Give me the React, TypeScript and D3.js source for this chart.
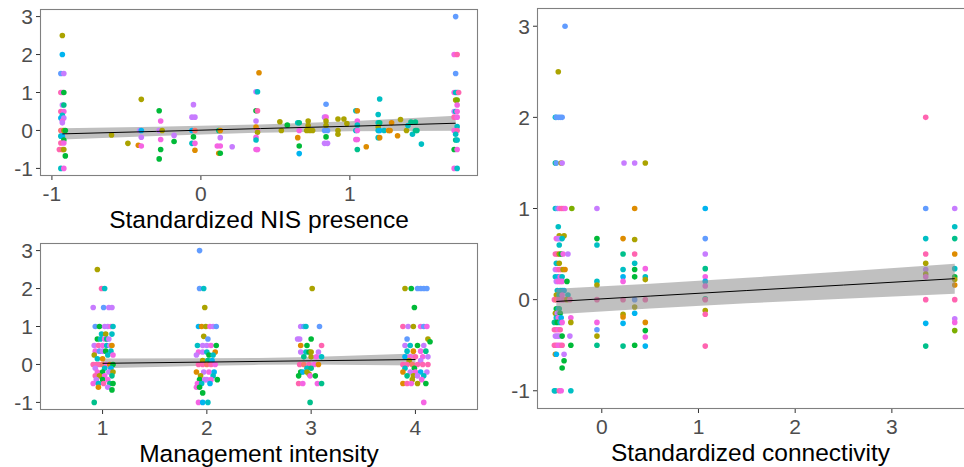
import React from "react";
import * as d3 from "d3";

type P = [number, number, string];

// group colours (ggplot hue palette, 12 groups)
const GROUP_COLORS: Record<string, string> = {
  r: "#F8766D", o: "#DE8C00", y: "#ABA300", l: "#7CAE00", g: "#00BA38", t: "#00C08B",
  c: "#00BFC4", b: "#00B4F0", w: "#619CFF", p: "#C77CFF", m: "#F564E3", k: "#FF64B0",
};

// ---------- Panel 1: Standardized NIS presence ----------
const nisPoints: P[] = [
  [-0.93,2.5,"y"],[-0.93,2.0,"b"],[-0.94,1.5,"w"],[-0.92,1.5,"p"],[-0.94,1.0,"k"],[-0.93,1.0,"m"],[-0.92,1.0,"g"],
  [-0.93,0.67,"p"],[-0.92,0.67,"t"],[-0.94,0.5,"k"],[-0.92,0.5,"m"],[-0.93,0.4,"c"],[-0.94,0.33,"b"],[-0.92,0.33,"p"],
  [-0.93,0.25,"m"],[-0.93,0.2,"p"],[-0.94,0,"r"],[-0.93,0,"k"],[-0.92,0,"y"],[-0.91,0,"g"],[-0.94,-0.15,"c"],
  [-0.93,-0.15,"b"],[-0.92,-0.25,"g"],[-0.94,-0.33,"k"],[-0.92,-0.33,"m"],[-0.95,-0.5,"k"],[-0.93,-0.5,"r"],
  [-0.92,-0.5,"y"],[-0.91,-0.67,"g"],[-0.94,-1,"c"],[-0.92,-1,"m"],
  [-0.6,-0.12,"y"],[-0.49,-0.34,"y"],[-0.4,0.82,"y"],[-0.42,-0.39,"o"],[-0.41,0,"p"],[-0.4,0,"b"],[-0.4,-0.18,"p"],
  [-0.4,-0.41,"m"],[-0.28,0.52,"g"],[-0.27,0.25,"m"],[-0.28,0,"p"],[-0.26,0,"y"],[-0.27,-0.24,"m"],[-0.27,-0.5,"g"],
  [-0.28,-0.75,"g"],[-0.18,-0.13,"p"],[-0.18,-0.29,"g"],[-0.05,0.68,"p"],[-0.06,0.35,"p"],[-0.04,0.35,"p"],
  [-0.06,0,"b"],[-0.04,0,"r"],[-0.05,-0.17,"g"],[-0.06,-0.34,"c"],[-0.04,-0.34,"m"],[-0.04,-0.52,"o"],
  [0.12,0,"t"],[0.13,0,"o"],[0.13,-0.19,"p"],[0.11,-0.41,"m"],[0.13,-0.41,"m"],[0.12,-0.6,"o"],[0.13,-0.6,"g"],
  [0.21,-0.43,"p"],
  [0.39,1.52,"o"],[0.37,1.02,"p"],[0.38,1.02,"c"],[0.37,0.52,"g"],[0.38,0.52,"k"],[0.37,0.25,"p"],[0.37,0.09,"o"],
  [0.38,0,"m"],[0.38,-0.05,"y"],[0.37,-0.18,"m"],[0.37,-0.25,"c"],[0.37,-0.5,"m"],[0.38,-0.5,"m"],
  [0.53,0.23,"y"],[0.54,0,"y"],[0.58,0.14,"g"],[0.65,-0.19,"o"],[0.66,0,"m"],[0.65,0.2,"c"],[0.66,0.2,"t"],
  [0.66,-0.41,"g"],[0.66,-0.61,"b"],[0.72,0.25,"y"],[0.72,0.13,"y"],[0.71,0,"y"],[0.73,0,"y"],[0.75,0,"y"],
  [0.84,0.69,"w"],[0.83,0.35,"p"],[0.84,0.35,"m"],[0.84,0.25,"y"],[0.84,0.13,"y"],[0.83,0,"w"],[0.85,0,"w"],
  [0.84,-0.17,"g"],[0.83,-0.34,"p"],[0.85,-0.34,"p"],[0.92,0.3,"y"],[0.92,0,"y"],[0.92,-0.1,"y"],
  [0.96,0.3,"y"],[0.98,0.18,"y"],[1.04,0.52,"c"],[1.05,0.52,"o"],[1.05,0.25,"m"],[1.05,0.14,"c"],[1.04,0,"c"],
  [1.05,0,"m"],[1.04,-0.24,"m"],[1.05,-0.24,"m"],[1.05,-0.5,"t"],[1.11,-0.43,"o"],
  [1.2,0.83,"c"],[1.19,0.42,"c"],[1.19,0.2,"c"],[1.2,0.2,"t"],[1.19,0.09,"y"],[1.19,0,"c"],[1.2,0,"b"],
  [1.19,-0.19,"c"],[1.2,-0.19,"o"],[1.23,0,"c"],[1.26,0,"o"],[1.27,0,"o"],[1.28,0.2,"o"],[1.32,-0.14,"o"],
  [1.34,0.29,"y"],[1.38,0,"y"],[1.39,0.13,"c"],[1.41,0.22,"t"],[1.42,-0.1,"c"],[1.44,0,"t"],[1.45,0,"t"],
  [1.44,0.22,"t"],[1.48,-0.36,"c"],
  [1.71,3,"w"],[1.7,2,"m"],[1.72,2,"k"],[1.71,1.5,"w"],[1.7,1,"m"],[1.71,1,"c"],[1.72,1,"c"],[1.73,1,"k"],
  [1.71,0.8,"y"],[1.72,0.8,"l"],[1.72,0.67,"m"],[1.7,0.5,"p"],[1.71,0.5,"c"],[1.72,0.5,"m"],[1.7,0.35,"k"],
  [1.72,0.35,"m"],[1.72,0.1,"c"],[1.7,0,"m"],[1.72,0,"k"],[1.71,-0.1,"c"],[1.71,-0.25,"t"],[1.72,-0.25,"c"],
  [1.7,-0.5,"g"],[1.72,-0.5,"m"],[1.7,-1,"m"],[1.72,-1,"c"],
];
const nisFitX = [-0.93, -0.3, 0.4, 1.0, 1.71];
const nisFitY = [-0.09, -0.025, 0.05, 0.11, 0.19];
const nisFitHalf = [0.15, 0.12, 0.11, 0.13, 0.2];
const nisXTicks = [-1, 0, 1];

// ---------- Panel 2: Management intensity ----------
const mgmtPoints: P[] = [
  [0.95,2.5,"y"],[0.99,2,"k"],[1.02,2,"c"],[0.91,1.5,"p"],[1.01,1.5,"w"],[1.06,1.5,"p"],[1.09,1.5,"p"],
  [0.93,1,"w"],[0.97,1,"g"],[1.02,1,"p"],[1.05,1,"p"],[1.08,1,"m"],[1.1,1,"c"],
  [0.99,0.8,"c"],[1.03,0.8,"y"],[1.09,0.8,"c"],
  [0.95,0.67,"g"],[0.98,0.67,"c"],[1.02,0.67,"m"],[1.04,0.67,"t"],[1.06,0.67,"p"],
  [0.92,0.5,"p"],[0.96,0.5,"k"],[1.0,0.5,"m"],[1.04,0.5,"c"],[1.07,0.5,"p"],[1.09,0.5,"o"],
  [0.93,0.35,"m"],[0.97,0.35,"w"],[1.0,0.35,"p"],[1.03,0.35,"g"],[1.08,0.35,"c"],
  [0.92,0.25,"y"],[1.05,0.25,"c"],[1.1,0.25,"m"],[0.95,0.15,"c"],[1.0,0.15,"o"],
  [0.91,0,"k"],[0.94,0,"k"],[0.97,0,"k"],[1.0,0,"r"],[1.04,0,"m"],[1.07,0,"o"],[1.1,0,"g"],
  [0.93,-0.1,"p"],[1.02,-0.1,"c"],[1.08,-0.1,"b"],
  [0.95,-0.2,"m"],[1.0,-0.2,"g"],[1.06,-0.2,"p"],[1.1,-0.2,"y"],
  [0.93,-0.3,"k"],[0.97,-0.3,"y"],[1.02,-0.3,"m"],[1.09,-0.3,"t"],
  [0.94,-0.4,"p"],[1.0,-0.4,"g"],[1.05,-0.4,"m"],
  [0.91,-0.5,"m"],[0.96,-0.5,"c"],[1.01,-0.5,"k"],[1.07,-0.5,"t"],[1.1,-0.5,"g"],
  [0.96,-0.6,"o"],[1.05,-0.6,"p"],[1.09,-0.67,"g"],[0.92,-1,"t"],

  [1.93,3,"w"],[1.93,2,"w"],[1.97,2,"c"],[1.98,1.5,"y"],
  [1.92,1,"b"],[1.95,1,"o"],[1.99,1,"y"],[2.03,1,"m"],[2.06,1,"p"],[2.09,1,"w"],
  [1.97,0.74,"y"],[2.01,0.67,"w"],
  [1.91,0.5,"c"],[1.96,0.5,"p"],[2.0,0.5,"p"],[2.04,0.5,"m"],[2.09,0.5,"g"],
  [1.92,0.33,"m"],[1.96,0.33,"p"],[2.0,0.33,"c"],[2.08,0.33,"o"],
  [1.9,0.25,"p"],[2.02,0.25,"g"],[2.06,0.25,"c"],
  [1.96,0.1,"y"],[2.01,0.1,"t"],[2.05,0.1,"b"],
  [1.92,0,"k"],[1.96,0,"k"],[2.0,0,"r"],[2.04,0,"k"],[2.08,0,"m"],
  [1.9,-0.2,"o"],[1.97,-0.2,"p"],[2.02,-0.2,"m"],[2.07,-0.2,"b"],
  [1.94,-0.3,"y"],[2.06,-0.3,"c"],
  [1.93,-0.4,"g"],[1.98,-0.4,"p"],[2.0,-0.4,"p"],[2.04,-0.4,"m"],[2.1,-0.4,"g"],
  [1.91,-0.5,"m"],[1.95,-0.5,"c"],[2.03,-0.5,"b"],
  [1.9,-0.6,"m"],[1.93,-0.6,"g"],[1.96,-0.75,"g"],
  [1.92,-1,"m"],[1.96,-1,"b"],[2.01,-1,"c"],

  [3.01,2,"y"],
  [2.9,1,"p"],[2.93,1,"w"],[2.95,1,"c"],[3.08,1,"w"],
  [2.87,0.67,"p"],[2.89,0.67,"p"],[3.0,0.67,"g"],
  [2.9,0.5,"o"],[2.96,0.5,"g"],[3.1,0.5,"k"],
  [2.9,0.33,"p"],[2.95,0.33,"c"],[2.98,0.33,"g"],[3.0,0.33,"y"],[3.07,0.33,"p"],
  [2.93,0.2,"t"],[3.0,0.2,"y"],[3.05,0.2,"m"],[3.1,0.2,"c"],
  [2.89,0,"k"],[2.93,0,"r"],[2.98,0,"k"],[3.03,0,"m"],[3.07,0,"o"],
  [2.96,-0.1,"c"],[3.0,-0.1,"t"],
  [2.9,-0.2,"g"],[2.92,-0.2,"b"],[2.96,-0.2,"y"],[2.98,-0.25,"y"],
  [2.88,-0.3,"g"],[2.99,-0.3,"m"],[3.04,-0.3,"g"],
  [2.88,-0.5,"k"],[2.92,-0.5,"m"],[3.06,-0.5,"m"],[3.1,-0.5,"t"],
  [2.99,-1,"t"],

  [3.9,2,"y"],[3.96,2,"g"],[4.02,2,"w"],[4.05,2,"w"],[4.08,2,"w"],[4.11,2,"w"],
  [3.99,1.5,"g"],
  [3.88,1,"k"],[3.93,1,"p"],[3.98,1,"y"],[4.05,1,"m"],[4.08,1,"w"],[4.11,1,"m"],
  [3.92,0.67,"w"],[4.12,0.67,"y"],[4.14,0.6,"g"],
  [3.9,0.5,"p"],[3.95,0.5,"c"],[4.02,0.5,"g"],[4.08,0.5,"p"],
  [3.92,0.35,"c"],[3.98,0.35,"o"],[4.05,0.35,"m"],[4.1,0.35,"t"],
  [3.9,0.2,"b"],[3.95,0.2,"m"],[4.0,0.2,"k"],[4.07,0.2,"m"],[4.12,0.2,"p"],
  [3.94,0.1,"y"],[4.05,0.1,"p"],
  [3.88,0,"k"],[3.92,0,"k"],[3.97,0,"r"],[4.02,0,"k"],[4.07,0,"k"],[4.12,0,"k"],
  [3.9,-0.1,"c"],[3.99,-0.1,"g"],
  [3.88,-0.2,"o"],[3.95,-0.2,"p"],[4.0,-0.2,"m"],[4.05,-0.2,"b"],[4.11,-0.2,"p"],
  [3.92,-0.3,"t"],[3.98,-0.3,"y"],[4.02,-0.3,"p"],[4.08,-0.3,"c"],
  [3.97,-0.4,"y"],[4.06,-0.4,"m"],
  [3.88,-0.5,"o"],[3.92,-0.5,"k"],[3.96,-0.5,"m"],[4.02,-0.5,"y"],[4.1,-0.5,"g"],
  [4.08,-1,"m"],
];
const mgmtFitX = [1, 2, 2.5, 3, 4];
const mgmtFitY = [0.03, 0.063, 0.08, 0.097, 0.13];
const mgmtFitHalf = [0.13, 0.1, 0.09, 0.1, 0.16];
const mgmtXTicks = [1, 2, 3, 4];

// ---------- Panel 3: Standardized connectivity ----------
const connPoints: P[] = [
  [-0.38,3,"w"],[-0.45,2.5,"y"],
  [-0.48,2,"c"],[-0.47,2,"w"],[-0.45,2,"w"],[-0.43,2,"w"],[-0.41,2,"w"],
  [-0.48,1.5,"t"],[-0.47,1.5,"w"],[-0.42,1.5,"y"],[-0.41,1.5,"p"],
  [-0.48,1,"c"],[-0.46,1,"w"],[-0.44,1,"m"],[-0.42,1,"k"],[-0.4,1,"k"],[-0.38,1,"m"],[-0.31,1,"l"],
  [-0.45,0.8,"c"],[-0.44,0.7,"y"],[-0.39,0.7,"y"],
  [-0.47,0.67,"m"],[-0.45,0.67,"p"],[-0.43,0.67,"p"],[-0.41,0.67,"c"],
  [-0.44,0.6,"c"],
  [-0.48,0.5,"k"],[-0.46,0.5,"k"],[-0.44,0.5,"y"],[-0.42,0.5,"g"],[-0.4,0.5,"m"],[-0.35,0.5,"p"],
  [-0.47,0.4,"c"],[-0.44,0.4,"y"],
  [-0.48,0.33,"p"],[-0.46,0.33,"m"],[-0.44,0.33,"k"],[-0.42,0.33,"k"],[-0.4,0.33,"y"],[-0.38,0.33,"o"],
  [-0.48,0.25,"c"],[-0.45,0.25,"b"],[-0.43,0.25,"m"],[-0.41,0.25,"c"],
  [-0.47,0.2,"p"],[-0.45,0.2,"m"],[-0.43,0.2,"m"],[-0.41,0.2,"m"],[-0.36,0.2,"g"],
  [-0.46,0.1,"c"],[-0.43,0.1,"b"],[-0.41,0.1,"c"],[-0.39,0.1,"b"],
  [-0.47,0.05,"y"],[-0.44,0.05,"t"],[-0.41,0.05,"m"],[-0.35,0.05,"c"],
  [-0.49,0,"k"],[-0.47,0,"r"],[-0.45,0,"k"],[-0.43,0,"k"],[-0.41,0,"m"],[-0.39,0,"k"],[-0.36,0,"y"],[-0.33,0,"k"],
  [-0.47,-0.1,"g"],[-0.45,-0.1,"b"],[-0.44,-0.1,"t"],
  [-0.48,-0.15,"y"],[-0.46,-0.15,"p"],[-0.43,-0.15,"g"],
  [-0.47,-0.2,"c"],[-0.45,-0.2,"m"],[-0.42,-0.2,"b"],[-0.32,-0.2,"m"],
  [-0.49,-0.25,"t"],[-0.46,-0.25,"g"],[-0.43,-0.25,"c"],[-0.41,-0.25,"m"],[-0.32,-0.25,"y"],
  [-0.49,-0.33,"k"],[-0.47,-0.33,"k"],[-0.45,-0.33,"m"],[-0.43,-0.33,"k"],
  [-0.48,-0.4,"p"],[-0.46,-0.4,"p"],[-0.44,-0.4,"p"],[-0.41,-0.4,"g"],[-0.33,-0.4,"p"],
  [-0.49,-0.5,"k"],[-0.47,-0.5,"k"],[-0.45,-0.5,"m"],[-0.43,-0.5,"m"],[-0.41,-0.5,"k"],[-0.32,-0.5,"g"],
  [-0.48,-0.6,"o"],[-0.47,-0.6,"b"],[-0.39,-0.6,"p"],
  [-0.39,-0.67,"g"],[-0.41,-0.75,"g"],
  [-0.49,-1,"c"],[-0.48,-1,"c"],[-0.44,-1,"k"],[-0.42,-1,"m"],[-0.32,-1,"c"],

  [-0.05,1,"p"],[-0.05,0.67,"g"],[-0.05,0.6,"c"],[-0.05,0.2,"c"],[-0.05,0.16,"y"],[-0.05,0,"k"],
  [-0.05,-0.25,"m"],[-0.05,-0.33,"w"],[-0.05,-0.4,"y"],[-0.05,-0.5,"t"],
  [0.23,1.5,"p"],[0.22,0.67,"o"],[0.22,0.5,"t"],[0.22,0.33,"c"],[0.22,0.25,"b"],[0.22,0.2,"m"],[0.22,0,"k"],
  [0.22,-0.16,"y"],[0.22,-0.19,"o"],[0.22,-0.26,"b"],[0.22,-0.51,"t"],
  [0.34,1.5,"p"],[0.34,1,"o"],[0.34,0.66,"y"],[0.34,0.5,"k"],[0.34,0.4,"c"],[0.34,0.33,"g"],[0.34,0.25,"g"],
  [0.34,0,"w"],[0.34,-0.08,"y"],[0.34,-0.15,"b"],[0.34,-0.5,"g"],
  [0.45,1.5,"y"],[0.45,0.34,"m"],[0.45,0.25,"c"],[0.45,0.22,"y"],[0.45,0,"k"],[0.45,-0.25,"o"],
  [0.45,-0.34,"g"],[0.45,-0.41,"m"],[0.45,-0.51,"b"],
  [1.07,1,"b"],[1.07,0.67,"w"],[1.07,0.5,"p"],[1.07,0.34,"t"],[1.07,0.25,"m"],[1.07,0.2,"b"],[1.07,0.15,"m"],
  [1.07,0.01,"t"],[1.07,0,"k"],[1.07,-0.12,"y"],[1.07,-0.16,"k"],[1.07,-0.51,"k"],
  [3.35,2,"k"],[3.35,1,"w"],[3.35,0.67,"c"],[3.35,0.5,"k"],[3.35,0.4,"y"],[3.35,0.33,"p"],[3.35,0.28,"y"],
  [3.35,0.25,"m"],[3.35,0,"k"],[3.35,-0.26,"b"],[3.35,-0.51,"t"],
  [3.65,1,"p"],[3.65,0.8,"c"],[3.65,0.67,"t"],[3.65,0.5,"o"],[3.65,0.34,"c"],[3.65,0.25,"g"],[3.65,0.22,"y"],
  [3.65,0.16,"o"],[3.65,0,"k"],[3.65,-0.21,"p"],[3.65,-0.25,"m"],[3.65,-0.34,"l"],
];
const connFitX = [-0.47, 0.5, 1.5, 2.5, 3.65];
const connFitY = [-0.02, 0.039, 0.1, 0.16, 0.23];
const connFitHalf = [0.14, 0.135, 0.14, 0.15, 0.165];
const connXTicks = [0, 1, 2, 3];

const yTicks = [-1, 0, 1, 2, 3];
const yDomain: [number, number] = [-1.2, 3.2];

const FONT = "'Liberation Sans', Arial, Helvetica, sans-serif";

interface PanelProps {
  id: string;
  x0: number; x1: number; y0: number; y1: number;
  xDomain: [number, number];
  xTicks: number[];
  points: P[];
  fitX: number[]; fitY: number[]; fitHalf: number[];
  title: string;
  ribbonOnTop: boolean;
}

function Panel(props: PanelProps) {
  const { id, x0, x1, y0, y1, xDomain, xTicks, points, fitX, fitY, fitHalf, title, ribbonOnTop } = props;
  const xs = d3.scaleLinear().domain(xDomain).range([x0, x1]);
  const ys = d3.scaleLinear().domain(yDomain).range([y1, y0]);
  const fit = fitX.map((x, i) => ({ x, y: fitY[i], h: fitHalf[i] }));
  const area = d3.area<{ x: number; y: number; h: number }>()
    .x(d => xs(d.x)).y0(d => ys(d.y - d.h)).y1(d => ys(d.y + d.h));
  const line = d3.line<{ x: number; y: number; h: number }>().x(d => xs(d.x)).y(d => ys(d.y));
  const ribbon = ribbonOnTop
    ? <path d={area(fit) || ""} fill="#8E8E8E" fillOpacity={0.56} />
    : <path d={area(fit) || ""} fill="#BFBFBF" />;
  const dots = (
    <g>
      {points.map((p, i) => (
        <circle key={i} cx={xs(p[0])} cy={ys(p[1])} r={2.8} fill={GROUP_COLORS[p[2]]} />
      ))}
    </g>
  );
  const midX = (x0 + Math.min(x1, 964)) / 2;
  return (
    <g>
      <defs>
        <clipPath id={id}>
          <rect x={x0} y={y0} width={x1 - x0} height={y1 - y0} />
        </clipPath>
      </defs>
      <g clipPath={`url(#${id})`}>
        {ribbonOnTop ? dots : ribbon}
        {ribbonOnTop ? ribbon : dots}
        <path d={line(fit) || ""} fill="none" stroke="#000" strokeWidth={1} />
      </g>
      <rect x={x0 + 0.5} y={y0 + 0.5} width={x1 - x0 - 1} height={y1 - y0 - 1} fill="none" stroke="#808080" strokeWidth={1.1} />
      {yTicks.map(t => (
        <g key={"y" + t}>
          <line x1={x0 - 4} x2={x0} y1={ys(t)} y2={ys(t)} stroke="#333" strokeWidth={1} />
          <text x={x0 - 7} y={ys(t)} dy="0.36em" textAnchor="end" fontSize={21} fill="#4D4D4D" fontFamily={FONT}>{t}</text>
        </g>
      ))}
      {xTicks.map(t => (
        <g key={"x" + t}>
          <line x1={xs(t)} x2={xs(t)} y1={y1} y2={y1 + 4} stroke="#333" strokeWidth={1} />
          <text x={xs(t)} y={y1 + 24.5} textAnchor="middle" fontSize={21} fill="#4D4D4D" fontFamily={FONT}>{t}</text>
        </g>
      ))}
      <text x={midX} y={y1 + 51.5} textAnchor="middle" fontSize={24.5} fill="#000" fontFamily={FONT}>{title}</text>
    </g>
  );
}

export default function App() {
  return (
    <svg width={964} height={467} style={{ position: "absolute", left: 0, top: 0, background: "#fff" }}>
      <rect x={0} y={0} width={964} height={467} fill="#fff" />
      <Panel id="c1" x0={40} x1={478} y0={9} y1={176} xDomain={[-1.08, 1.86]} xTicks={nisXTicks}
        points={nisPoints} fitX={nisFitX} fitY={nisFitY} fitHalf={nisFitHalf}
        title="Standardized NIS presence" ribbonOnTop={false} />
      <Panel id="c2" x0={40} x1={478} y0={243} y1={410} xDomain={[0.4, 4.6]} xTicks={mgmtXTicks}
        points={mgmtPoints} fitX={mgmtFitX} fitY={mgmtFitY} fitHalf={mgmtFitHalf}
        title="Management intensity" ribbonOnTop={false} />
      <Panel id="c3" x0={537} x1={976} y0={8} y1={409} xDomain={[-0.67, 3.87]} xTicks={connXTicks}
        points={connPoints} fitX={connFitX} fitY={connFitY} fitHalf={connFitHalf}
        title="Standardized connectivity" ribbonOnTop={true} />
    </svg>
  );
}
